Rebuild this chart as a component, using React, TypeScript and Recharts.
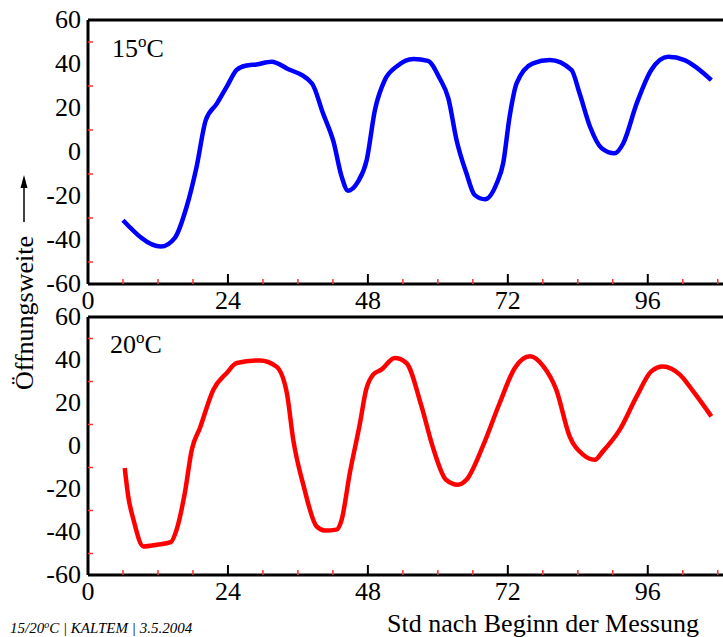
import { LineChart, Line, XAxis, YAxis, ReferenceLine } from "recharts";

// Stunden / Öffnungsweite, 15 °C
const hours15 = [
  6, 12.5, 14.9, 16.9, 18.6, 20.2, 22.1, 23.8, 25.5, 27, 28.9, 31.5, 34.1, 38.4, 40.3, 42.1, 43.5,
  44.6, 46.3, 47.8, 49.2, 50.9, 52.9, 55.8, 58.3, 60.3, 61.8, 63.2, 64.9, 66.3, 68.1, 70.1, 71.2,
  72.3, 73.5, 76.3, 79.2, 82.9, 84.3, 86.1, 88.1, 90.3, 91.8, 94.1, 96.6, 99.5, 102.3, 106.9,
];
const values15 = [
  -31, -43, -39, -25, -7, 14.5, 22, 29.7, 37.3, 39.2, 39.8, 41, 38, 31.2, 17.6, 4.7, -11.2,
  -17.6, -13.5, -3.6, 19, 32.7, 38.8, 42.3, 41.4, 33.5, 24.4, 5.5, -9.7, -19.5, -21.5, -14.2, -5.1,
  16, 31.2, 40.3, 41.8, 37.3, 26.7, 11.5, 1.7, -0.6, 4, 22.1, 37.3, 43.3, 41.8, 32.7,
];

// Stunden / Öffnungsweite, 20 °C
const hours20 = [
  6.3, 6.9, 7.8, 9.5, 11.8, 14.2, 15.2, 16.6, 17.8, 19.2, 21.5, 23.8, 25.5, 29.5, 32.3, 34.1, 35.2,
  37, 39.2, 40.6, 42.6, 43.5, 44.9, 46.6, 47.7, 48.9, 50.3, 52.6, 54.6, 57.2, 59.1, 61.4, 63.4,
  64.9, 67.7, 70.6, 73.2, 75.8, 78.1, 80.3, 82.6, 84.9, 86.9, 88.3, 91.2, 94.1, 96.6, 98.6, 101.5,
  103.8, 106.9,
];
const values20 = [
  -10.2, -23.4, -34.3, -46.7, -45.9, -44.7, -38.9, -21.9, -1.7, 8.4, 26.2, 34, 38.6, 39.8, 37, 24.7,
  2.9, -18.8, -37.4, -39.3, -38.9, -34.3, -12.6, 10, 26.2, 33.2, 35.5, 40.9, 38.6, 18.4, -0.2, -15.7,
  -18, -15.7, -0.2, 20, 36.3, 41.7, 37, 26.2, 4.5, -4, -6.4, -2.5, 7.6, 23.1, 34.7, 37, 33.2, 25.4,
  13.8,
];

const xTicks = [0, 6, 12, 18, 24, 30, 36, 42, 48, 54, 60, 66, 72, 78, 84, 90, 96, 102, 108];
const yTicks = [-60, -50, -40, -30, -20, -10, 0, 10, 20, 30, 40, 50, 60];

const data15 = hours15.map((h, i) => ({ h, v: values15[i] }));
const data20 = hours20.map((h, i) => ({ h, v: values20[i] }));

const FONT = "Liberation Serif";

function XTick(props: any) {
  const { x, y, payload } = props;
  const v = payload.value;
  const major = v % 24 === 0;
  return (
    <g>
      {v !== 0 && (
        <line
          x1={x}
          x2={x}
          y1={y}
          y2={y - (major ? 10 : 5)}
          stroke={major ? "#000" : "#ff3030"}
          strokeWidth={major ? 2 : 1.5}
        />
      )}
      {major && (
        <text x={x} y={y + 25} textAnchor="middle" style={{ fontSize: 26, fontFamily: FONT }} fill="#000">
          {v}
        </text>
      )}
    </g>
  );
}

function YTick(props: any) {
  const { x, y, payload } = props;
  const v = payload.value;
  const major = v % 20 === 0;
  return (
    <g>
      {!major && <line x1={x} x2={x + 5} y1={y} y2={y} stroke="#ff3030" strokeWidth={1.5} />}
      {major && (
        <text x={x - 7} y={y + 8} textAnchor="end" style={{ fontSize: 26, fontFamily: FONT }} fill="#000">
          {v}
        </text>
      )}
    </g>
  );
}

function Panel({ data, color, height }: { data: any[]; color: string; height: number }) {
  return (
    <LineChart width={723} height={height} data={data} margin={{ top: 20, right: 0, bottom: 0, left: 0 }}>
      <XAxis
        dataKey="h"
        type="number"
        domain={[0, 108.9]}
        ticks={xTicks}
        interval={0}
        height={36}
        tickSize={0}
        tickMargin={0}
        tickLine={false}
        tick={<XTick />}
        axisLine={{ stroke: "#000", strokeWidth: 3 }}
        allowDataOverflow
      />
      <YAxis
        type="number"
        domain={[-60, 60]}
        ticks={yTicks}
        interval={0}
        width={88}
        tickSize={0}
        tickMargin={0}
        tickLine={false}
        tick={<YTick />}
        axisLine={{ stroke: "#000", strokeWidth: 3 }}
      />
      <ReferenceLine y={60} stroke="#000" strokeWidth={3} />
      <Line
        type="monotone"
        dataKey="v"
        stroke={color}
        strokeWidth={4.5}
        dot={false}
        isAnimationActive={false}
      />
    </LineChart>
  );
}

export default function App() {
  const txt = { fontFamily: FONT, fontSize: 26 };
  return (
    <div style={{ position: "absolute", left: 0, top: 0, width: 723, height: 637, background: "#fff" }}>
      <div style={{ position: "absolute", left: 0, top: 0 }}>
        <Panel data={data15} color="#0000ff" height={320} />
      </div>
      <div style={{ position: "absolute", left: 0, top: 297 }}>
        <Panel data={data20} color="#ff0000" height={314} />
      </div>
      <svg
        width={723}
        height={637}
        style={{ position: "absolute", left: 0, top: 0, pointerEvents: "none" }}
      >
        <text x={112} y={57} style={txt} fill="#000">
          15<tspan style={{ fontSize: 17 }} dy={-10}>o</tspan>
          <tspan dy={10}>C</tspan>
        </text>
        <text x={110} y={353} style={txt} fill="#000">
          20<tspan style={{ fontSize: 17 }} dy={-10}>o</tspan>
          <tspan dy={10}>C</tspan>
        </text>
        <text transform="translate(33, 390) rotate(-90)" style={txt} fill="#000">
          Öffnungsweite
        </text>
        <line x1={24} x2={24} y1={222} y2={184} stroke="#000" strokeWidth={1.5} />
        <polygon points="24,175 20.5,188 27.5,188" fill="#000" />
        <text x={387} y={632} style={txt} fill="#000">
          Std nach Beginn der Messung
        </text>
        <text x={10} y={633} style={{ fontFamily: FONT, fontSize: 15, fontStyle: "italic" }} fill="#000">
          15/20<tspan style={{ fontSize: 10 }} dy={-5}>o</tspan>
          <tspan dy={5}>C | KALTEM | 3.5.2004</tspan>
        </text>
      </svg>
    </div>
  );
}
